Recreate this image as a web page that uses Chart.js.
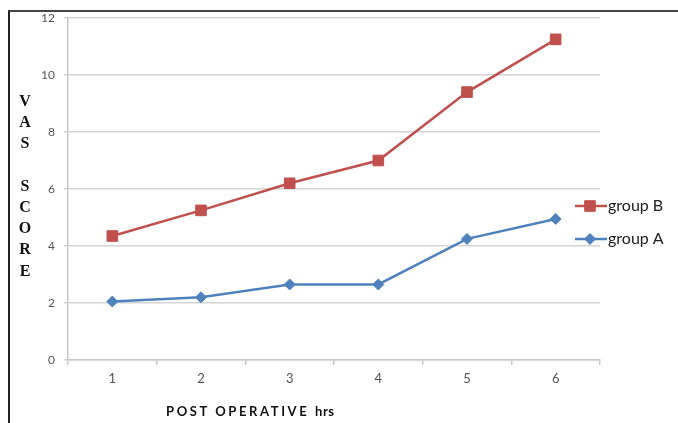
<!DOCTYPE html>
<html>
<head>
<meta charset="utf-8">
<script src="https://cdn.jsdelivr.net/npm/chart.js@4.4.1/dist/chart.umd.min.js"></script>
<style>
  html, body { margin: 0; padding: 0; background: #fff; }
  #wrap { position: relative; width: 678px; height: 423px; overflow: hidden; }
  #frame { position: absolute; left: 8px; top: 10px; width: 700px; height: 440px;
           border-left: 2px solid #222; border-top: 2px solid #444; box-sizing: border-box; pointer-events: none; }
  canvas { position: absolute; left: 0; top: 0; }
  #ytitle { position: absolute; left: 15px; top: 90px; width: 20px; text-align: center;
            font-family: "Liberation Serif", serif; font-weight: bold; font-size: 16px; line-height: 21.2px; color: #111; }
  #xtitle { position: absolute; left: 166px; top: 403px; font-family: Lato, "Open Sans", sans-serif; font-weight: bold;
            font-size: 13px; letter-spacing: 2.6px; color: #111; white-space: nowrap; }
  #xtitle span { letter-spacing: 0.5px; }
</style>
</head>
<body>
<div id="wrap">
  <canvas id="c" width="678" height="423"></canvas>
  <div id="frame"></div>
  <div id="ytitle">V<br>A<br>S<br>&nbsp;<br>S<br>C<br>O<br>R<br>E</div>
  <div id="xtitle">POST OPERATIVE <span>hrs</span></div>
</div>
<script>
const categories = ["1", "2", "3", "4", "5", "6"];
const groupA = [2.05, 2.2, 2.65, 2.65, 4.25, 4.95];
const groupB = [4.35, 5.25, 6.2, 7.0, 9.4, 11.25];
const seriesNames = ["group A", "group B"];
const yTicks = [0, 2, 4, 6, 8, 10, 12];

const legendPlugin = {
  id: 'sideLegend',
  afterDraw(chart) {
    const ctx = chart.ctx;
    const area = chart.chartArea;
    const order = [1, 0];
    order.forEach((di, i) => {
      const ds = chart.data.datasets[di];
      const y = area.top + 188 + i * 33;
      const x0 = area.right - 25;
      ctx.save();
      ctx.strokeStyle = ds.borderColor;
      ctx.lineWidth = 2.5;
      ctx.beginPath();
      ctx.moveTo(x0, y);
      ctx.lineTo(x0 + 32, y);
      ctx.stroke();
      ctx.fillStyle = ds.pointBackgroundColor;
      ctx.strokeStyle = ds.pointBorderColor;
      ctx.lineWidth = 1;
      Chart.helpers.drawPoint(ctx, { pointStyle: ds.pointStyle, radius: ds.pointRadius, rotation: 0, borderWidth: 1 }, x0 + 15, y);
      ctx.fillStyle = '#222';
      ctx.font = '16px Lato, "Open Sans", sans-serif';
      ctx.textBaseline = 'middle';
      ctx.textAlign = 'left';
      ctx.fillText(ds.label, x0 + 33, y);
      ctx.restore();
    });
  }
};

new Chart(document.getElementById('c'), {
  type: 'line',
  data: {
    labels: categories,
    datasets: [
      {
        label: seriesNames[0], data: groupA,
        borderColor: '#4F81BD', backgroundColor: '#4F81BD',
        pointBackgroundColor: '#4F81BD', pointBorderColor: '#4F81BD',
        pointStyle: 'rectRot', pointRadius: 5.5, pointBorderWidth: 1,
        borderWidth: 2.5, tension: 0
      },
      {
        label: seriesNames[1], data: groupB,
        borderColor: '#C0504D', backgroundColor: '#C0504D',
        pointBackgroundColor: '#C0504D', pointBorderColor: '#C0504D',
        pointStyle: 'rect', pointRadius: 7.5, pointBorderWidth: 1,
        borderWidth: 2.5, tension: 0
      }
    ]
  },
  options: {
    responsive: false,
    animation: false,
    devicePixelRatio: 1,
    layout: { padding: { left: 0, right: 78, top: 18, bottom: 0 } },
    plugins: { legend: { display: false }, tooltip: { enabled: false } },
    scales: {
      x: {
        offset: true,
        grid: { offset: true, drawOnChartArea: false, drawTicks: true, tickLength: 5, color: '#c8c8c8', lineWidth: 1.5 },
        border: { color: '#c8c8c8', width: 1.5 },
        ticks: { color: '#555', font: { family: 'Lato, "Open Sans", sans-serif', size: 13 }, padding: 6, maxRotation: 0 },
        afterFit(scale) { scale.height = 63; }
      },
      y: {
        min: 0, max: 12,
        afterBuildTicks(scale) { scale.ticks = yTicks.map(v => ({ value: v })); },
        grid: { color: '#d4d4d4', lineWidth: 1.5, drawTicks: true, tickLength: 4 },
        border: { color: '#c8c8c8', width: 1.5 },
        ticks: { color: '#555', font: { family: 'Lato, "Open Sans", sans-serif', size: 12 }, padding: 9 },
        afterFit(scale) { scale.width = 68; }
      }
    }
  },
  plugins: [legendPlugin]
});
</script>
</body>
</html>
